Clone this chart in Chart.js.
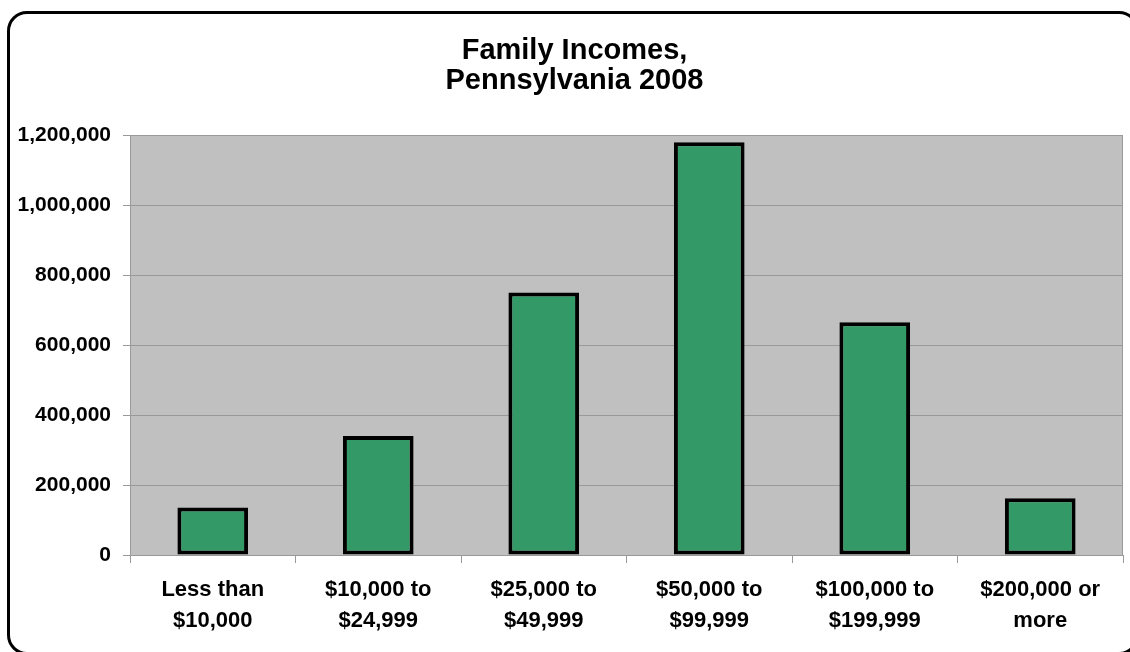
<!DOCTYPE html>
<html>
<head>
<meta charset="utf-8">
<title>Family Incomes, Pennsylvania 2008</title>
<script src="https://cdn.jsdelivr.net/npm/chart.js@4/dist/chart.umd.min.js"></script>
<style>
    html, body { margin: 0; padding: 0; background: #fff; overflow: hidden; }
    #wrap { position: relative; width: 1130px; height: 652px; }
    #incomeChart { position: absolute; left: 0; top: 0; }
    #frame {
        position: absolute; left: 7px; top: 11px;
        width: 1126px; height: 638px;
        border: 3.5px solid #000; border-radius: 20px;
        pointer-events: none;
    }
</style>
</head>
<body>
<div id="wrap">
    <canvas id="incomeChart" width="1130" height="652"></canvas>
    <div id="frame"></div>
</div>
<script>
// Income brackets (two-line labels) and number of families in each
const incomeBrackets = [
    ['Less than', '$10,000'],
    ['$10,000 to', '$24,999'],
    ['$25,000 to', '$49,999'],
    ['$50,000 to', '$99,999'],
    ['$100,000 to', '$199,999'],
    ['$200,000 or', 'more']
];
const familyCounts = [136000, 340000, 750000, 1179000, 665000, 162000];
const yTickValues = [0, 200000, 400000, 600000, 800000, 1000000, 1200000];
const titleLines = ['Family Incomes,', 'Pennsylvania 2008'];

const FONT = '"Liberation Sans", Arial, sans-serif';

// gray plot background with a thin outline, like a spreadsheet chart
const plotBackground = {
    id: 'plotBackground',
    beforeDraw(chart) {
        const { ctx, chartArea: a } = chart;
        ctx.save();
        ctx.fillStyle = '#c0c0c0';
        ctx.fillRect(a.left, a.top, a.right - a.left, a.bottom - a.top);
        ctx.restore();
    },
    afterDatasetsDraw(chart) {
        const { ctx, chartArea: a } = chart;
        ctx.save();
        ctx.strokeStyle = '#999';
        ctx.lineWidth = 1;
        ctx.beginPath();
        ctx.moveTo(a.right - 0.5, a.top);
        ctx.lineTo(a.right - 0.5, a.bottom);
        ctx.stroke();
        ctx.restore();
    }
};

// title centred on the framed box rather than on the canvas
const boxTitle = {
    id: 'boxTitle',
    afterDraw(chart) {
        const { ctx } = chart;
        ctx.save();
        ctx.fillStyle = '#000';
        ctx.font = 'bold 29px ' + FONT;
        ctx.textAlign = 'center';
        ctx.textBaseline = 'middle';
        titleLines.forEach((line, i) => ctx.fillText(line, 574.5, 51 + i * 29.5));
        ctx.restore();
    }
};

const ctx = document.getElementById('incomeChart').getContext('2d');
new Chart(ctx, {
    type: 'bar',
    data: {
        labels: incomeBrackets,
        datasets: [{
            data: familyCounts,
            backgroundColor: '#339966',
            borderColor: '#000',
            borderWidth: 4,
            borderSkipped: false,
            barPercentage: 0.427,
            categoryPercentage: 1
        }]
    },
    options: {
        responsive: false,
        animation: false,
        layout: { padding: { left: 0, right: 7, top: 135, bottom: 0 } },
        plugins: {
            legend: { display: false },
            tooltip: { enabled: false },
            title: { display: false }
        },
        scales: {
            x: {
                grid: { display: true, drawOnChartArea: false, drawTicks: true, tickLength: 8, color: '#999', offset: true },
                border: { display: true, color: '#999', width: 1 },
                ticks: {
                    color: '#000',
                    padding: 11,
                    maxRotation: 0,
                    autoSkip: false,
                    font: { family: FONT, size: 22, weight: 'bold', lineHeight: 1.42 }
                },
                afterFit: (scale) => { scale.height = 97; }
            },
            y: {
                min: 0,
                max: 1200000,
                grid: { color: '#999', lineWidth: 1, tickLength: 7 },
                border: { display: true, color: '#999', width: 1 },
                afterBuildTicks: (scale) => { scale.ticks = yTickValues.map(v => ({ value: v })); },
                ticks: {
                    color: '#000',
                    padding: 12,
                    font: { family: FONT, size: 21, weight: 'bold' },
                    callback: (v) => Number(v).toLocaleString('en-US')
                },
                afterFit: (scale) => { scale.width = 130; }
            }
        }
    },
    plugins: [plotBackground, boxTitle]
});
</script>
</body>
</html>
